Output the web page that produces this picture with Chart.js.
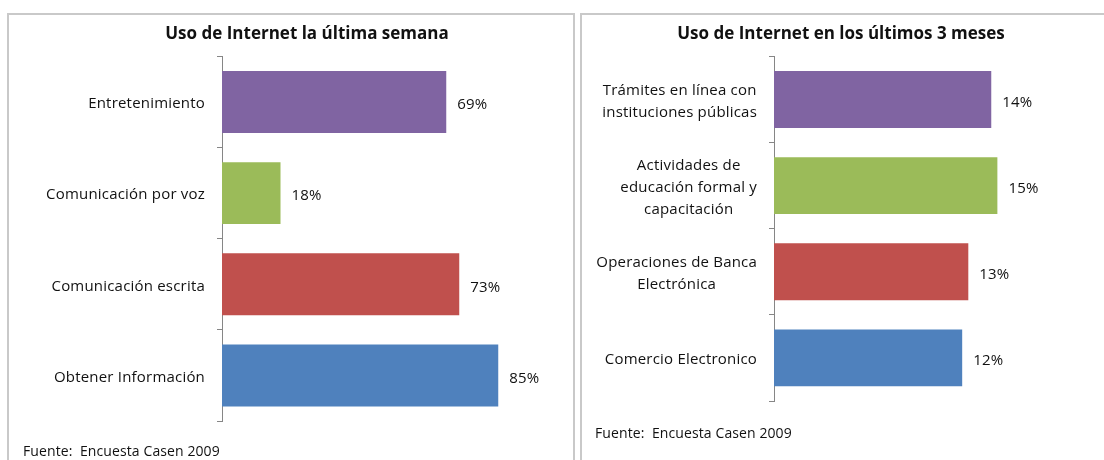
<!DOCTYPE html>
<html>
<head>
  <title>Uso de Internet</title>
  <script src="https://cdn.jsdelivr.net/npm/chart.js"></script>
  <style>
    body { margin: 0; background: #fff; font-family: "Open Sans", sans-serif; }
    .panel { position: absolute; top: 13px; height: 460px; border: 2px solid #c9c9c9; background: #fff; }
    .panel canvas { position: absolute; left: 0; top: 0; }
    .src { position: absolute; font-size: 14px; color: #111; white-space: pre; letter-spacing: 0.1px; }
  </style>
</head>
<body>
  <div class="panel" style="left:7px; width:564px;">
    <canvas id="semana" width="564" height="445"></canvas>
    <div class="src" style="left:14px; top:426px;">Fuente:  Encuesta Casen 2009</div>
  </div>
  <div class="panel" style="left:580px; width:540px;">
    <canvas id="meses" width="522" height="445"></canvas>
    <div class="src" style="left:13px; top:408px;">Fuente:  Encuesta Casen 2009</div>
  </div>

  <script>
    const semanaLabels = ["Entretenimiento", "Comunicación por voz", "Comunicación escrita", "Obtener Información"];
    const semanaValues = [69, 18, 73, 85];

    const mesesLabels = [
      ["Trámites en línea con", "instituciones públicas"],
      ["Actividades de", "educación formal y", "capacitación"],
      ["Operaciones de Banca", "Electrónica"],
      ["Comercio Electronico"]
    ];
    const mesesValues = [14.2, 14.6, 12.7, 12.3];

    const colores = ["#8064A2", "#9BBB59", "#C0504D", "#4F81BD"];

    // category labels (centered block next to the axis) + value labels at bar ends
    const barText = {
      id: "barText",
      afterDatasetsDraw(chart) {
        const ctx = chart.ctx;
        const area = chart.chartArea;
        const y = chart.scales.y;
        ctx.save();
        ctx.font = "15px 'Open Sans', sans-serif";
        ctx.letterSpacing = "0.2px";
        ctx.fillStyle = "#111";
        ctx.textBaseline = "middle";
        ctx.textAlign = "center";
        chart.data.labels.forEach((lab, i) => {
          const lines = [].concat(lab);
          const w = Math.max(...lines.map(l => ctx.measureText(l).width));
          const cx = area.left - 17 - w / 2;
          const cy = y.getPixelForValue(i) + 2;
          const lh = 22;
          lines.forEach((l, k) => {
            ctx.fillText(l, cx, cy + (k - (lines.length - 1) / 2) * lh);
          });
        });
        ctx.textAlign = "left";
        const meta = chart.getDatasetMeta(0);
        meta.data.forEach((bar, i) => {
          const v = chart.data.datasets[0].data[i];
          ctx.fillText(Math.round(v) + "%", bar.x + 11, bar.y + 3);
        });
        ctx.restore();
      }
    };

    function makeChart(id, title, labels, values, opt) {
      return new Chart(document.getElementById(id), {
        type: "bar",
        data: {
          labels: labels,
          datasets: [{
            data: values,
            backgroundColor: colores,
            barPercentage: opt.bar,
            categoryPercentage: 1
          }]
        },
        options: {
          indexAxis: "y",
          responsive: false,
          animation: false,
          devicePixelRatio: 1,
          layout: { padding: { left: opt.left, right: opt.right, top: 0, bottom: opt.bottom } },
          plugins: {
            legend: { display: false },
            tooltip: { enabled: false },
            title: {
              display: true,
              text: title,
              color: "#111",
              font: { family: "'Open Sans', sans-serif", size: 17, weight: "bold" },
              padding: { top: 9, bottom: 12 }
            }
          },
          scales: {
            x: { display: false, min: 0, max: opt.max },
            y: {
              afterFit(s) { s.width = opt.axisW; },
              border: { color: "#868686", width: 1 },
              grid: { drawOnChartArea: false, drawTicks: true, tickLength: 5, color: "#868686", offset: true },
              ticks: { display: false }
            }
          }
        },
        plugins: [barText]
      });
    }

    makeChart("semana", "Uso de Internet la última semana", semanaLabels, semanaValues,
      { bar: 0.68, left: 58, right: 26, bottom: 39, axisW: 155, max: 100 });
    makeChart("meses", "Uso de Internet en los últimos 3 meses", mesesLabels, mesesValues,
      { bar: 0.66, left: 20, right: 24, bottom: 59, axisW: 172, max: 20 });
  </script>
</body>
</html>
